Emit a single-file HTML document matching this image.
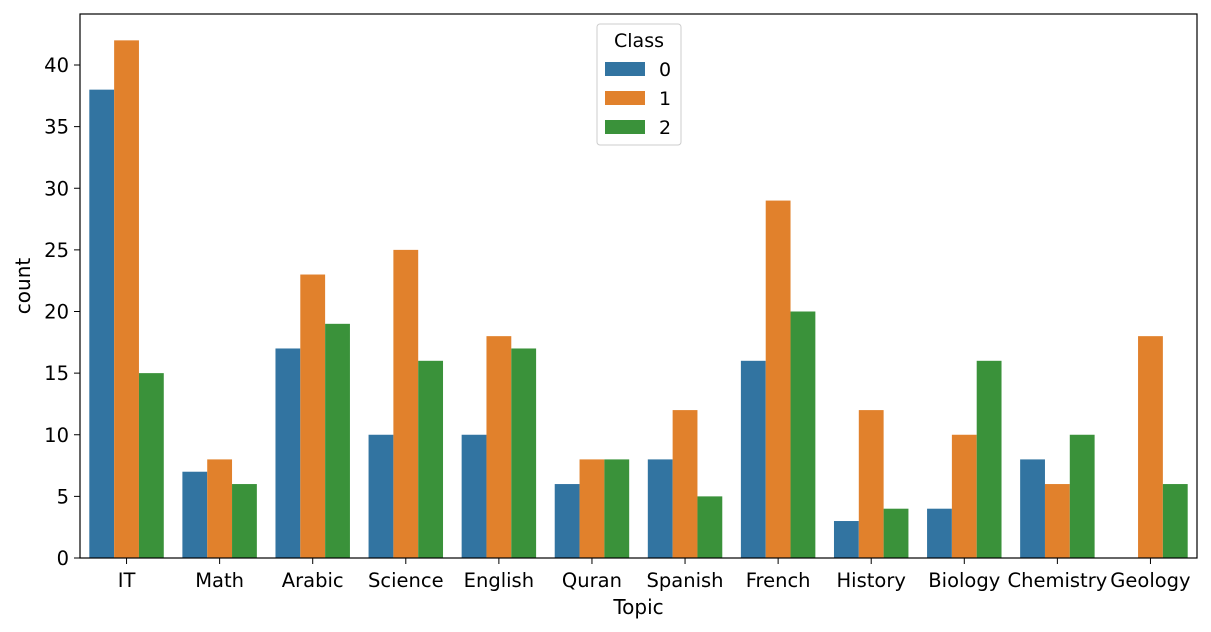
<!DOCTYPE html>
<html><head><meta charset="utf-8"><style>
body{margin:0;background:#fff;}
svg{display:block;font-family:"DejaVu Sans","Liberation Sans",sans-serif;}
</style></head><body>
<svg id="chart" width="1211" height="632"></svg>
<script>
const categories=["IT","Math","Arabic","Science","English","Quran","Spanish","French","History","Biology","Chemistry","Geology"];
const class0=[38,7,17,10,10,6,8,16,3,4,8,0];
const class1=[42,8,23,25,18,8,12,29,12,10,6,18];
const class2=[15,6,19,16,17,8,5,20,4,16,10,6];
const yTicks=[0,5,10,15,20,25,30,35,40];
const seriesNames=["0","1","2"];
const colors=["#3274a1","#e1812c","#3a923a"];
const L=80,R=1197,T=14,B=558;
const ns="http://www.w3.org/2000/svg";
const svg=document.getElementById('chart');
function y(v){return B-v*(B-65)/40;}
const bw=(R-L)/categories.length;
function x(i){return L+bw*(i+0.5);}
function mk(t,a,p){const e=document.createElementNS(ns,t);for(const k in a)e.setAttribute(k,a[k]);(p||svg).appendChild(e);return e;}
const series=[class0,class1,class2];
const barW=bw*0.8/3;
series.forEach((s,si)=>{s.forEach((v,i)=>{
 const r=mk('rect',{x:x(i)-bw*0.4+si*barW,y:y(v),width:barW,height:B-y(v),fill:colors[si]});
 
 
});});
mk('rect',{x:L,y:T,width:R-L,height:B-T,fill:'none',stroke:'#000','stroke-width':1.2});
yTicks.forEach(t=>{
 mk('line',{x1:L-6,x2:L,y1:y(t),y2:y(t),stroke:'#000'});
 const tx=mk('text',{x:L-11,y:y(t)+7,'text-anchor':'end','font-size':19.5});
 tx.textContent=t;
 
 
});
categories.forEach((c,i)=>{
 mk('line',{x1:x(i),x2:x(i),y1:B,y2:B+6,stroke:'#000'});
 const tx=mk('text',{x:x(i),y:B+29,'text-anchor':'middle','font-size':19.5});
 tx.textContent=c;
 
 
});
const xt=mk('text',{x:(L+R)/2,y:614,'text-anchor':'middle','font-size':20});xt.textContent='Topic';


const yt=mk('text',{x:30,y:(T+B)/2,'text-anchor':'middle','font-size':20,transform:'rotate(-90 30 '+(T+B)/2+')'});yt.textContent='count';


const lg=mk('g',{});


mk('rect',{x:597,y:24,width:84,height:121,rx:3,fill:'#fff',stroke:'#ccc'},lg);
const lt=mk('text',{x:639,y:47,'text-anchor':'middle','font-size':19},lg);lt.textContent='Class';
seriesNames.forEach((n,i)=>{
 const g=mk('g',{},lg);
 
 
 mk('rect',{x:605,y:62+i*29,width:40,height:14,fill:colors[i]},g);
 const t=mk('text',{x:659,y:76+i*29,'font-size':19},g);t.textContent=n;
});
</script>
</body></html>
